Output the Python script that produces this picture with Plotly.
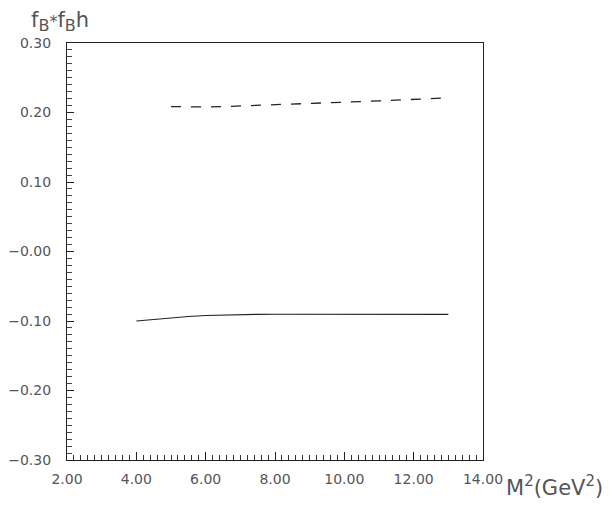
import plotly.graph_objects as go

# dashed curve (upper)
m2_dash = [5.0, 5.5, 6.0, 6.5, 7.0, 7.5, 8.0, 8.5, 9.0, 9.5, 10.0, 10.5, 11.0, 11.5, 12.0, 12.5, 13.0]
h_dash = [0.2085, 0.2080, 0.2080, 0.2085, 0.2093, 0.2102, 0.2110, 0.2118, 0.2128, 0.2138, 0.2146, 0.2158, 0.2168, 0.2178, 0.2188, 0.2198, 0.2210]

# solid curve (lower)
m2_solid = [4.0, 4.5, 5.0, 5.5, 6.0, 6.5, 7.0, 7.5, 8.0, 9.0, 10.0, 11.0, 12.0, 13.0]
h_solid = [-0.1000, -0.0975, -0.0953, -0.0935, -0.0921, -0.0912, -0.0907, -0.0904, -0.0903, -0.0903, -0.0903, -0.0903, -0.0904, -0.0904]

x_ticks = [2, 4, 6, 8, 10, 12, 14]
x_tick_text = ["2.00", "4.00", "6.00", "8.00", "10.00", "12.00", "14.00"]
y_ticks = [0.3, 0.2, 0.1, 0.0, -0.1, -0.2, -0.3]
y_tick_text = ["0.30", "0.20", "0.10", "\u22120.00", "\u22120.10", "\u22120.20", "\u22120.30"]

font = "DejaVu Sans, Liberation Sans, sans-serif"

fig = go.Figure()
fig.add_trace(go.Scatter(x=m2_dash, y=h_dash, mode="lines",
                         line=dict(color="#222", width=1.3, dash="10px,10px"),
                         showlegend=False))
fig.add_trace(go.Scatter(x=m2_solid, y=h_solid, mode="lines",
                         line=dict(color="#222", width=1.2),
                         showlegend=False))

axis_common = dict(showgrid=False, zeroline=False, showline=True, mirror=True, automargin=False,
                   linecolor="#222", linewidth=1.2, ticks="inside", tickcolor="#222",
                   tickfont=dict(family=font, size=14, color="#555"))

fig.update_xaxes(range=[2, 14], tickvals=x_ticks, ticktext=x_tick_text,
                 ticklen=8, tickwidth=1.2, ticklabelstandoff=6,
                 minor=dict(dtick=0.2, ticks="inside", ticklen=5, tickcolor="#333", tickwidth=1),
                 **axis_common)
fig.update_yaxes(range=[-0.3, 0.3], tickvals=y_ticks, ticktext=y_tick_text,
                 ticklen=7, tickwidth=1.2, ticklabelstandoff=12,
                 minor=dict(dtick=0.01, ticks="inside", ticklen=5, tickcolor="#444", tickwidth=1),
                 **axis_common)

sup = '<sup><span style="font-size:15px">2</span></sup>'
sub = '<sub><span style="font-size:16px">B</span></sub>'
star = '<span style="font-size:16px">*</span>'

fig.add_annotation(text="M" + sup + "(GeV" + sup + ")", xref="paper", yref="paper",
                   x=1.0, y=0.0, xanchor="left", yanchor="top", xshift=21, yshift=-10,
                   showarrow=False, font=dict(family=font, size=21, color="#555"))
fig.add_annotation(text="f" + sub + star + "f" + sub + "h", xref="paper", yref="paper",
                   x=0.0, y=1.0, xanchor="left", yanchor="bottom", xshift=-38, yshift=6,
                   showarrow=False, font=dict(family=font, size=21, color="#555"))

fig.update_layout(width=613, height=512, plot_bgcolor="white", paper_bgcolor="white",
                  margin=dict(l=59, r=138, t=35, b=60))

fig.write_html("out.html")
